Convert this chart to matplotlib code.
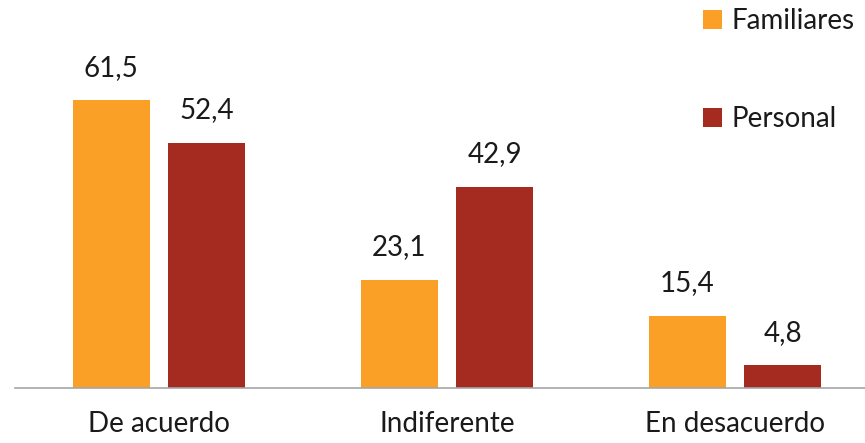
import matplotlib.pyplot as plt
import numpy as np

categories = ["De acuerdo", "Indiferente", "En desacuerdo"]
familiares = [61.5, 23.1, 15.4]
personal = [52.4, 42.9, 4.8]

plt.rcParams["font.family"] = ["Lato", "DejaVu Sans"]

fig = plt.figure(figsize=(8.65, 4.43), dpi=100)
ax = fig.add_axes([15 / 865, 1 - 387.5 / 443, 1 - 15 / 865, 387.5 / 443])

x = np.arange(len(categories))
w = 0.267
b1 = ax.bar(x - 0.166, familiares, w, color="#FBA026", label="Familiares")
b2 = ax.bar(x + 0.166, personal, w, color="#A52A1F", label="Personal")

for bars, vals in [(b1, familiares), (b2, personal)]:
    for bar, v in zip(bars, vals):
        ax.annotate(f"{v:.1f}".replace(".", ","),
                    (bar.get_x() + bar.get_width() / 2, v),
                    xytext=(0, 14), textcoords="offset points",
                    ha="center", va="bottom", fontsize=20, color="#1a1a1a")

ax.set_xlim(-0.5, 2.451)
ax.set_ylim(0, 82.9)
ax.set_xticks(x)
ax.set_xticklabels(categories, fontsize=20, color="#1a1a1a")
ax.tick_params(axis="x", length=0, pad=17)
ax.set_yticks([])
for s in ["top", "left", "right"]:
    ax.spines[s].set_visible(False)
ax.spines["bottom"].set_color("#A6A6A6")
ax.spines["bottom"].set_linewidth(1.2)

fig.legend(loc="upper left", bbox_to_anchor=(703 / 865, 1 - 8 / 443),
           frameon=False, fontsize=20, borderpad=0, borderaxespad=0,
           handlelength=0.68, handleheight=0.68, handletextpad=0.36,
           labelspacing=2.6, labelcolor="#1a1a1a")

fig.savefig("out.png", dpi=100)
